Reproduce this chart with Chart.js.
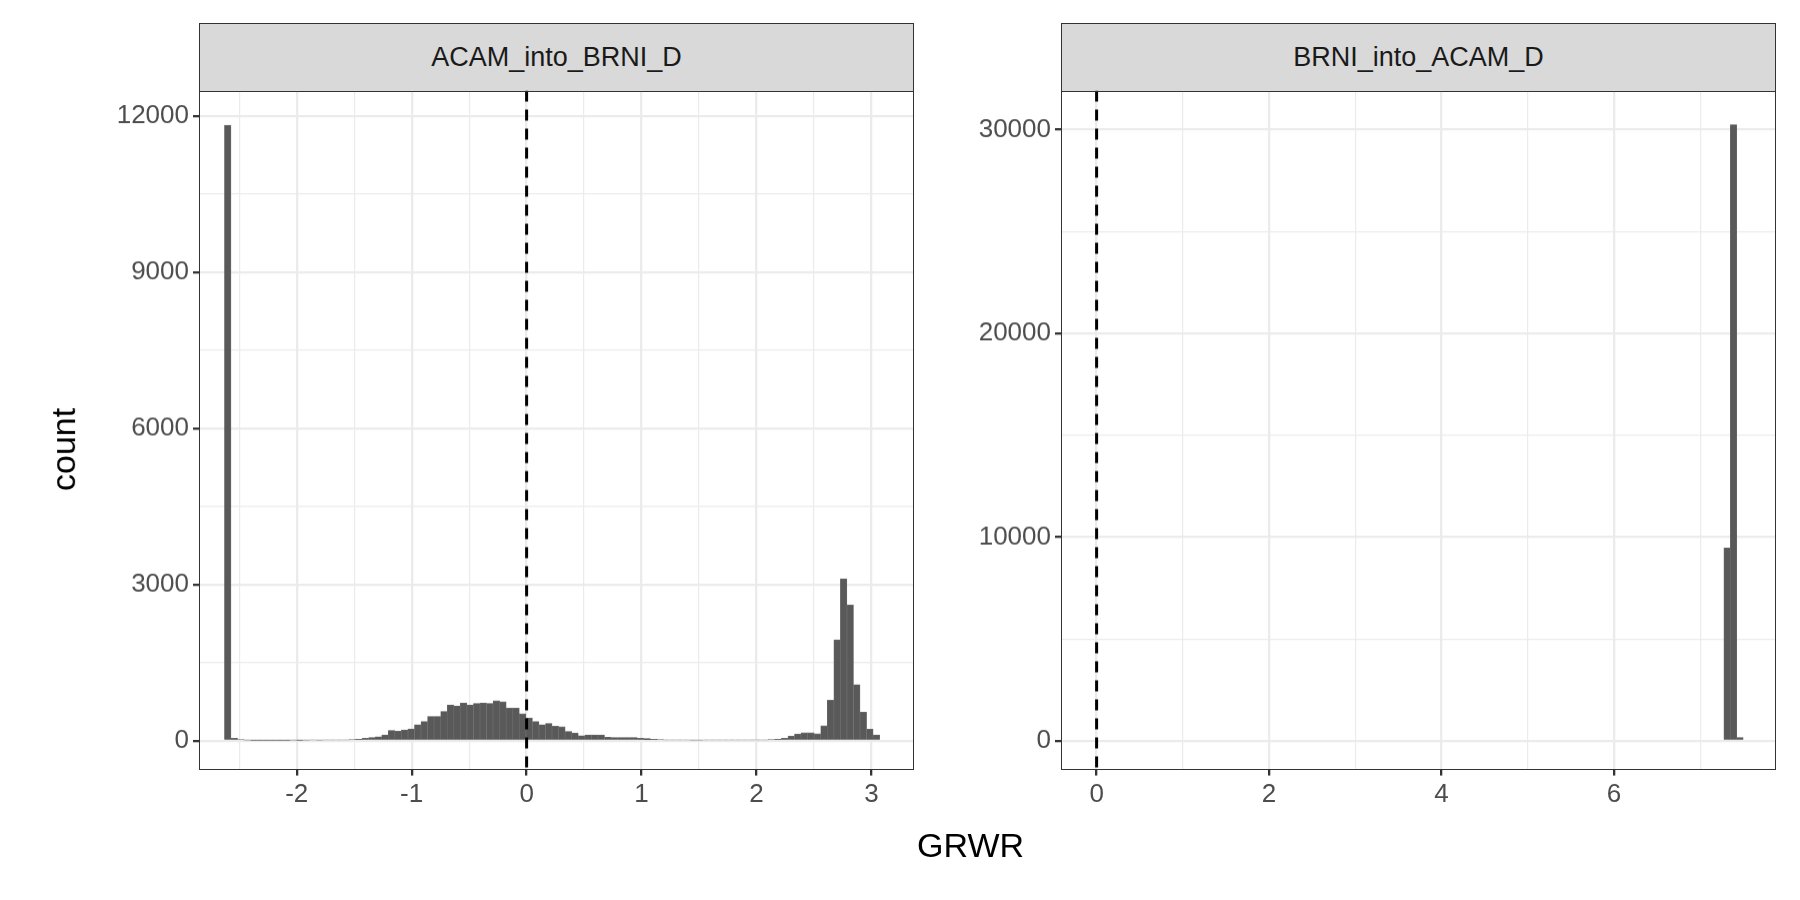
<!DOCTYPE html>
<html><head><meta charset="utf-8">
<script src="https://cdn.jsdelivr.net/npm/chart.js@4"></script>
<style>
body{margin:0;background:#fff;width:1800px;height:900px;position:relative;overflow:hidden;font-family:"Liberation Sans",Arial,sans-serif}
.strip{position:absolute;background:#d9d9d9;border:1.5px solid #333;box-sizing:border-box;color:#1a1a1a;font-size:27px;display:flex;align-items:center;justify-content:center}
.frame{position:absolute;border:1.5px solid #333;box-sizing:border-box;pointer-events:none}
.w{position:absolute}
.t{position:absolute;color:#000;font-size:34px}
</style></head><body>
<div class="strip" style="left:199px;top:23px;width:715px;height:69px">ACAM_into_BRNI_D</div>
<div class="strip" style="left:1061px;top:23px;width:715px;height:69px">BRNI_into_ACAM_D</div>
<div class="w" id="w1" style="left:0;top:91px;width:914px;height:740px"><canvas id="c1"></canvas></div>
<div class="w" id="w2" style="left:913px;top:91px;width:863px;height:740px"><canvas id="c2"></canvas></div>
<div class="frame" style="left:199px;top:91px;width:715px;height:679px"></div>
<div class="frame" style="left:1061px;top:91px;width:715px;height:679px"></div>
<div class="t" style="left:917px;top:826px">GRWR</div>
<div class="t" style="left:22px;top:430px;transform:rotate(-90deg);transform-origin:center;">count</div>
<script>
// Left panel: 100 bins from -2.6 to ~3.1
const leftStart = -2.6, leftWidth = 0.057;
const leftCounts = [11820,50,25,15,12,10,10,12,10,12,15,12,15,18,15,20,18,20,22,25,30,50,65,80,115,200,185,210,230,310,370,470,470,565,690,670,730,690,720,730,720,770,750,630,630,520,440,370,310,335,280,270,180,150,100,115,115,115,70,65,65,65,65,50,45,30,25,20,20,18,18,15,15,18,20,20,22,20,18,18,20,20,20,25,30,50,90,130,155,155,135,290,780,1940,3110,2610,1080,550,225,115];
// Right panel: 100 bins from 0 to 7.5, only last three non-zero
const rightStart = 0, rightWidth = 0.075;
const rightBins = [97,98,99];
const rightCounts = [9470,30250,170];
const leftXTicks = [-2,-1,0,1,2,3], leftYTicks = [0,3000,6000,9000,12000];
const rightXTicks = [0,2,4,6], rightYTicks = [0,10000,20000,30000];

const leftData = leftCounts.map((c,i)=>({x:leftStart+leftWidth*i, y:c}));
const rightData = rightBins.map((b,i)=>({x:rightStart+rightWidth*(b+0.5), y:rightCounts[i]}));

function mkTicks(major){const t=[];for(let i=0;i<major.length;i++){t.push({value:major[i]});if(i<major.length-1)t.push({value:(major[i]+major[i+1])/2});}
  const step=major[1]-major[0];t.unshift({value:major[0]-step/2});t.push({value:major[major.length-1]+step/2});return t;}
const vline={id:'vline',afterDatasetsDraw(ch){const x=ch.scales.x.getPixelForValue(0),a=ch.chartArea,c=ch.ctx;c.save();c.beginPath();c.rect(a.left,a.top,a.right-a.left,a.bottom-a.top);c.clip();c.strokeStyle='#000';c.lineWidth=3;c.setLineDash([11,8]);c.beginPath();c.moveTo(x,a.top);c.lineTo(x,a.bottom);c.stroke();c.restore();}};
function scale(axis,min,max,major,fitSize){
  const isMajor=v=>major.includes(v);
  return {type:'linear',min,max,offset:false,
    afterBuildTicks:s=>{s.ticks=mkTicks(major).filter(t=>t.value>=min&&t.value<=max);},
    afterFit:s=>{if(axis==='y')s.width=fitSize;else s.height=fitSize;},
    border:{display:false},
    grid:{offset:false,color:'#ebebeb',lineWidth:ctx=>ctx.tick&&isMajor(ctx.tick.value)?2.3:1.2,
      tickColor:ctx=>ctx.tick&&isMajor(ctx.tick.value)?'#333':'rgba(0,0,0,0)',tickLength:6,drawTicks:true},
    ticks:{autoSkip:false,maxRotation:0,color:'#4d4d4d',font:{size:26,family:'Liberation Sans'},padding:4,
      callback:v=>isMajor(v)?String(v):''}};
}
function mk(id,wid,data,xmin,xmax,xt,ymin,ymax,yt,yw,top){
  const ch=new Chart(document.getElementById(id),{type:'bar',
    data:{datasets:[{data,backgroundColor:'#595959',borderColor:'#6e6e6e',borderWidth:0.6,barPercentage:1,categoryPercentage:1,grouped:false}]},
    options:{responsive:true,maintainAspectRatio:false,animation:false,
      layout:{padding:0},
      plugins:{legend:{display:false},tooltip:{enabled:false}},
      scales:{x:scale('x',xmin,xmax,xt,62),y:scale('y',ymin,ymax,yt,yw)}},
    plugins:[vline]});
  const w=document.getElementById(wid);
  for(let k=0;k<3;k++){
    const a=ch.chartArea;
    const H=parseFloat(w.style.height)+(678-(a.bottom-a.top));
    const W=parseFloat(w.style.width)+(715-(a.right-a.left));
    w.style.height=H+'px';w.style.width=W+'px';ch.resize();
  }
  const a=ch.chartArea;
  w.style.top=(top-a.top)+'px';
  w.style.left=(parseFloat(w.style.left)+(yw-a.left))+'px';
}
mk('c1','w1',leftData,-2.85,3.37,leftXTicks,-551,12485,leftYTicks,199,91);
mk('c2','w2',rightData,-0.413,7.88,rightXTicks,-1410,31917,rightYTicks,148,91);
</script></body></html>
